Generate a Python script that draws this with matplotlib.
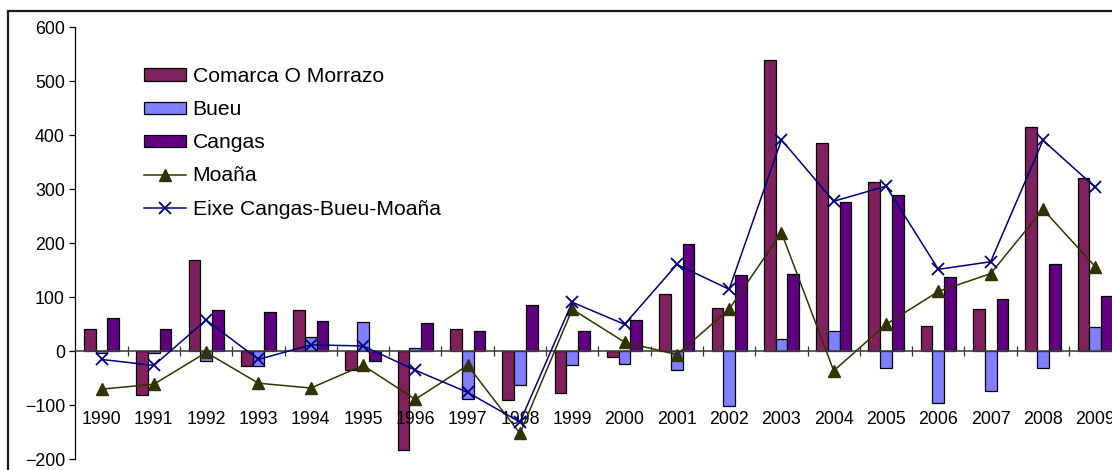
import numpy as np
import matplotlib
matplotlib.use('Agg')
from matplotlib import pyplot as plt
from matplotlib.patches import Rectangle

plt.rcParams['font.family'] = ['Liberation Sans', 'DejaVu Sans']

years = [str(y) for y in range(1990, 2010)]
comarca = [42, -80, 170, -27, 76, -35, -183, 42, -91, -77, -11, 106, 80, 539, 386, 313, 47, 79, 416, 322]
bueu = [-3, -3, -17, -27, 26, 55, 7, -88, -62, -26, -23, -35, -101, 23, 38, -31, -96, -73, -31, 46]
cangas = [62, 41, 76, 73, 56, -18, 53, 38, 85, 38, 59, 199, 141, 144, 276, 290, 137, 97, 161, 102]
moana = [-70, -61, -2, -59, -68, -26, -89, -26, -152, 78, 17, -6, 78, 220, -36, 50, 111, 144, 263, 157]
eixe = [-15, -26, 58, -15, 12, 10, -35, -76, -131, 91, 50, 161, 115, 392, 278, 306, 152, 166, 391, 304]

W, H = 1112, 470
fig = plt.figure(figsize=(W / 100, H / 100), dpi=100)

# outer chart frame (cut off on the right and bottom like the original)
fig.patches.append(Rectangle((8 / W, -0.1), 1.2, 1 - 11 / H + 0.1, transform=fig.transFigure,
                             fill=False, ec='#1a1a1a', lw=1.6))

ax = fig.add_axes([75.4 / W, 1 - 459.3 / H, 1046 / W, (459.3 - 27.5) / H])

x = np.arange(len(years))
bw = 0.224
b1 = ax.bar(x - bw, comarca, bw, color='#80205f', edgecolor='black', linewidth=0.9, label='Comarca O Morrazo', zorder=2)
b2 = ax.bar(x, bueu, bw, color='#8080ff', edgecolor='black', linewidth=0.9, label='Bueu', zorder=2)
b3 = ax.bar(x + bw, cangas, bw, color='#600080', edgecolor='black', linewidth=0.9, label='Cangas', zorder=2)
l1, = ax.plot(x, moana, '-^', color='#333300', lw=1.1, ms=8.5, label='Moaña', zorder=4)
l2, = ax.plot(x, eixe, '-x', color='#000080', lw=1.1, ms=8, mew=1.3, label='Eixe Cangas-Bueu-Moaña', zorder=5)

ax.set_xlim(-0.5, len(years) - 0.5)
ax.set_ylim(-200, 600)
ax.set_yticks(range(-200, 601, 100))
ax.tick_params(axis='y', direction='out', length=4.5, width=0.9, labelsize=12.8, pad=3)

ax.spines['top'].set_visible(False)
ax.spines['right'].set_visible(False)
ax.spines['left'].set_color('black')
ax.spines['left'].set_linewidth(0.9)
ax.spines['bottom'].set_position(('data', 0))
ax.spines['bottom'].set_color('#444444')
ax.spines['bottom'].set_linewidth(1.2)
ax.spines['bottom'].set_zorder(3)
ax.set_xticks(x[:-1] + 0.5)
ax.set_xticklabels([])
ax.tick_params(axis='x', direction='inout', length=7, width=0.9, color='#333333')

for xi, yr in zip(x, years):
    ax.text(xi, -126, yr, ha='center', va='center', fontsize=12.8, clip_on=False)

ax.legend([b1, b2, b3, l1, l2],
          ['Comarca O Morrazo', 'Bueu', 'Cangas', 'Moaña', 'Eixe Cangas-Bueu-Moaña'],
          loc='upper left', bbox_to_anchor=(144 / W, 1 - 67 / H), bbox_transform=fig.transFigure,
          frameon=False, fontsize=15.2, handlelength=2.0, handleheight=0.52, handletextpad=0.3,
          labelspacing=0.67, borderpad=0, borderaxespad=0)

fig.savefig('out.png', dpi=100)
